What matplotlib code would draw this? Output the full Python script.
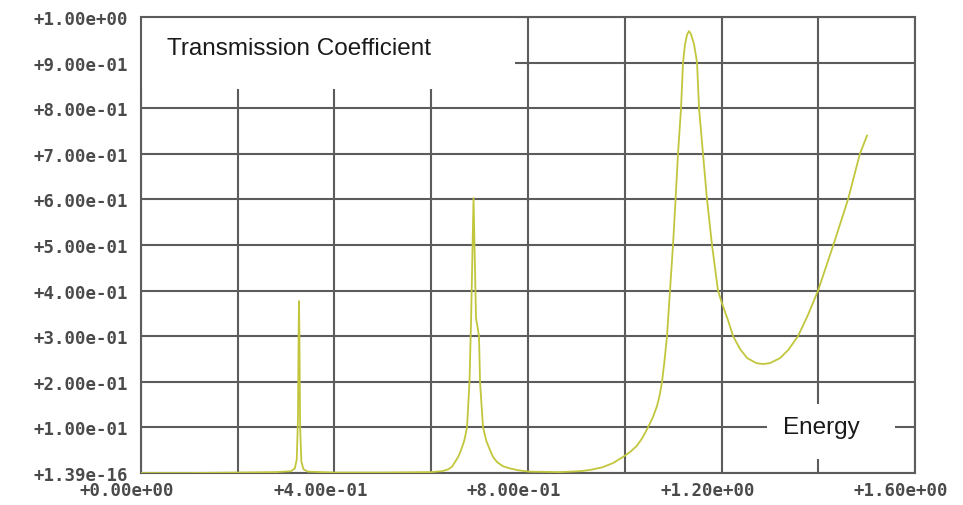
import matplotlib
matplotlib.use("Agg")
import matplotlib.pyplot as plt
from matplotlib.patches import Rectangle
from matplotlib.transforms import ScaledTranslation


# transmission coefficient vs. energy
energy = [
    0.000, 0.100, 0.200, 0.280, 0.310, 0.318, 0.322, 0.3245, 0.3258, 0.3266,
    0.3275, 0.3290, 0.3315, 0.336, 0.345, 0.400, 0.500, 0.600, 0.610, 0.622,
    0.635, 0.643, 0.649, 0.656, 0.6615, 0.668, 0.674, 0.679, 0.6822, 0.6874,
    0.6925, 0.6987, 0.7008, 0.707, 0.714, 0.7215, 0.728, 0.736, 0.748, 0.763,
    0.780, 0.802, 0.866, 0.9075, 0.930, 0.955, 0.976, 0.996, 1.012, 1.0253,
    1.037, 1.048, 1.058, 1.0667, 1.072, 1.077, 1.082, 1.0873, 1.0935, 1.0997,
    1.105, 1.110, 1.1163, 1.1204, 1.1245, 1.1290, 1.1328, 1.1370, 1.1432, 1.1494,
    1.1535, 1.1617, 1.170, 1.1803, 1.1927, 1.2010, 1.2134, 1.2240, 1.2382, 1.2530,
    1.2720, 1.2858, 1.300, 1.321, 1.338, 1.358, 1.378, 1.3995, 1.4305,
    1.4615, 1.486, 1.5008,
]
transmission = [
    0.000, 0.000, 0.001, 0.002, 0.004, 0.010, 0.030, 0.120, 0.300, 0.377,
    0.300, 0.100, 0.025, 0.008, 0.003, 0.001, 0.001, 0.002, 0.003, 0.004,
    0.008, 0.014, 0.024, 0.036, 0.050, 0.070, 0.100, 0.200, 0.330, 0.603,
    0.340, 0.300, 0.200, 0.100, 0.070, 0.050, 0.035, 0.024, 0.015, 0.010,
    0.006, 0.003, 0.002, 0.004, 0.007, 0.013, 0.022, 0.035, 0.047, 0.060,
    0.078, 0.100, 0.122, 0.147, 0.170, 0.200, 0.245, 0.300, 0.400, 0.500,
    0.600, 0.700, 0.800, 0.900, 0.940, 0.962, 0.969, 0.962, 0.940, 0.900,
    0.800, 0.700, 0.600, 0.500, 0.400, 0.372, 0.335, 0.300, 0.272, 0.252,
    0.241, 0.239, 0.241, 0.252, 0.270, 0.300, 0.345, 0.400, 0.498,
    0.600, 0.700, 0.740,
]

x_grid = [0.0, 0.2, 0.4, 0.6, 0.8, 1.0, 1.2, 1.4, 1.6]
x_ticks = [0.0, 0.4, 0.8, 1.2, 1.6]
x_tick_labels = ["+0.00e+00", "+4.00e-01", "+8.00e-01", "+1.20e+00", "+1.60e+00"]
y_ticks = [0.0, 0.1, 0.2, 0.3, 0.4, 0.5, 0.6, 0.7, 0.8, 0.9, 1.0]
y_tick_labels = [
    "+1.39e-16", "+1.00e-01", "+2.00e-01", "+3.00e-01", "+4.00e-01",
    "+5.00e-01", "+6.00e-01", "+7.00e-01", "+8.00e-01", "+9.00e-01", "+1.00e+00",
]

GRID_COLOR = "#5c5c5c"
CURVE_COLOR = "#c2c63c"
TICK_FONT = {"family": "DejaVu Sans Mono", "size": 12.5, "weight": "bold", "color": "#4a4a4a"}

fig = plt.figure(figsize=(9.63, 5.06), dpi=100)
ax = fig.add_axes([0.1464, 0.0632, 0.8038, 0.9012])

ax.set_xlim(0.0, 1.6)
ax.set_ylim(0.0, 1.0)

# grid drawn by hand so the label boxes can sit on top of it
ax.vlines(x_grid, 0.0, 1.0, colors=GRID_COLOR, linewidth=1.5, zorder=1)
ax.hlines(y_ticks, 0.0, 1.6, colors=GRID_COLOR, linewidth=1.5, zorder=1)

for spine in ax.spines.values():
    spine.set_color(GRID_COLOR)
    spine.set_linewidth(1.5)

ax.plot(energy, transmission, color=CURVE_COLOR, linewidth=1.3, zorder=4)

# white boxes behind the axis titles
ax.add_patch(Rectangle((0.0, 0.842), 0.483, 0.158, transform=ax.transAxes,
                       facecolor="white", edgecolor="none", zorder=2))
ax.add_patch(Rectangle((0.809, 0.031), 0.165, 0.120, transform=ax.transAxes,
                       facecolor="white", edgecolor="none", zorder=2))
ax.text(0.0336, 0.932, "Transmission Coefficient", transform=ax.transAxes,
        family="Liberation Sans", fontsize=17.5, color="#1a1a1a",
        ha="left", va="center", zorder=3)
ax.text(0.8295, 0.102, "Energy", transform=ax.transAxes,
        family="Liberation Sans", fontsize=17.5, color="#1a1a1a",
        ha="left", va="center", zorder=3)

ax.set_xticks(x_grid, minor=True)
ax.set_xticks(x_ticks)
ax.set_xticklabels(x_tick_labels, fontdict=TICK_FONT)
ax.set_yticks(y_ticks)
ax.set_yticklabels(y_tick_labels, fontdict=TICK_FONT)
ax.tick_params(axis="both", which="both", direction="in", length=5,
               color=GRID_COLOR, width=1.2, top=True, right=True)
ax.tick_params(axis="x", which="major", pad=6)
ax.tick_params(axis="y", which="major", pad=9)

shift = ScaledTranslation(-14 / 100, 0, fig.dpi_scale_trans)
for label in ax.get_xticklabels():
    label.set_transform(label.get_transform() + shift)

fig.savefig("out.png", dpi=100, facecolor="white")
